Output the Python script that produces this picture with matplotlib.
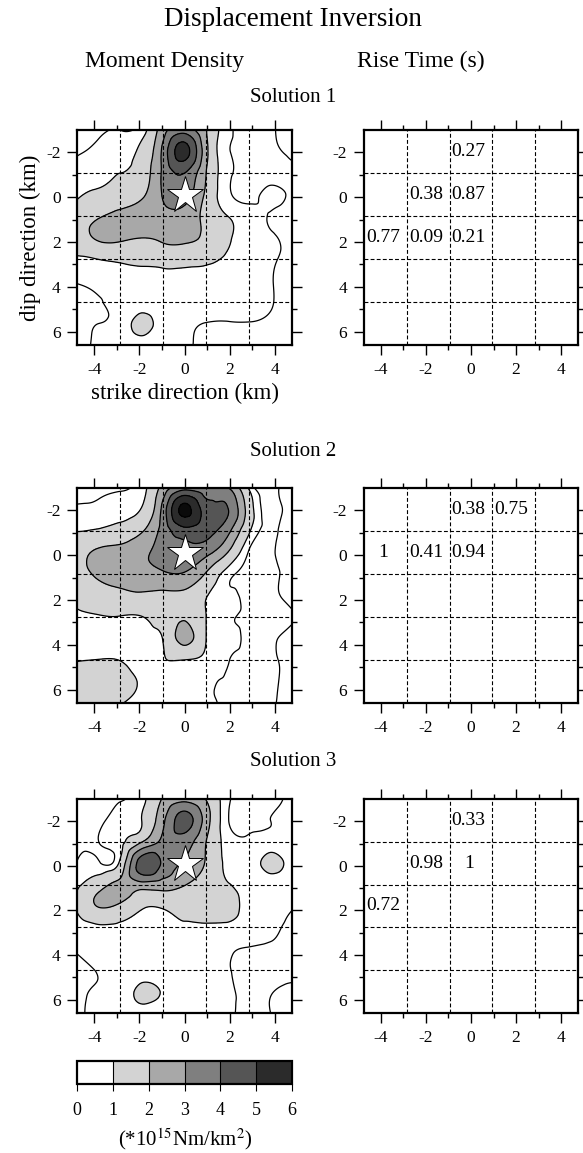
import numpy as np
import matplotlib
matplotlib.use("Agg")
import matplotlib.pyplot as plt
from matplotlib.tri import Triangulation, UniformTriRefiner
from matplotlib.colors import ListedColormap, BoundaryNorm
from matplotlib.cm import ScalarMappable

plt.rcParams['font.family'] = ['Liberation Serif', 'DejaVu Serif']
plt.rcParams['mathtext.fontset'] = 'stix'
plt.rcParams['axes.unicode_minus'] = False

# node positions of the moment density grid (km)
grid_x = [-4.75, -3.8, -2.85, -1.9, -0.95, 0.0, 0.95, 1.9, 2.85, 3.8, 4.75]
grid_y = [-3.0, -2.04, -1.08, -0.12, 0.84, 1.8, 2.76, 3.72, 4.68, 5.64, 6.6]

# moment density (*10^15 Nm/km^2), rows = dip, cols = strike
mom1 = [
    [0.30, 0.42, 0.50, 0.70, 2.60, 3.50, 2.05, 0.60, 0.35, 0.45, 0.70],
    [0.47, 0.62, 0.80, 1.20, 3.30, 5.40, 2.30, 0.55, 0.35, 0.40, 0.60],
    [0.60, 0.80, 1.00, 1.40, 3.20, 4.00, 2.00, 0.60, 0.40, 0.35, 0.40],
    [0.90, 1.15, 1.30, 1.80, 3.10, 3.40, 1.80, 0.60, 0.38, 0.58, 0.40],
    [1.40, 1.90, 2.30, 2.50, 2.70, 2.60, 1.70, 1.00, 0.70, 0.47, 0.35],
    [1.50, 2.15, 2.20, 2.02, 2.20, 2.20, 1.80, 1.10, 0.75, 0.55, 0.40],
    [0.90, 1.02, 1.15, 1.20, 1.30, 1.30, 1.20, 0.90, 0.70, 0.55, 0.40],
    [0.52, 0.60, 0.70, 0.75, 0.80, 0.80, 0.75, 0.70, 0.65, 0.52, 0.35],
    [0.40, 0.47, 0.65, 0.75, 0.70, 0.70, 0.70, 0.65, 0.60, 0.52, 0.35],
    [0.35, 0.50, 0.70, 1.15, 0.75, 0.56, 0.49, 0.48, 0.49, 0.45, 0.35],
    [0.40, 0.55, 0.65, 0.65, 0.65, 0.55, 0.40, 0.35, 0.35, 0.35, 0.35],
]
mom2 = [
    [0.30, 0.35, 0.42, 0.75, 2.40, 3.60, 3.50, 3.05, 0.90, 0.35, 0.70],
    [0.55, 0.62, 0.80, 1.05, 3.40, 6.30, 4.50, 4.05, 1.50, 0.35, 0.70],
    [0.98, 1.10, 1.30, 1.90, 3.40, 4.60, 4.30, 3.30, 1.10, 0.40, 0.70],
    [1.60, 2.20, 2.40, 2.80, 3.40, 3.70, 3.30, 2.00, 0.45, 0.40, 0.70],
    [1.50, 2.20, 2.50, 2.60, 2.85, 2.90, 1.90, 0.70, 0.40, 0.40, 0.70],
    [1.20, 1.50, 1.70, 1.85, 1.80, 1.70, 1.05, 0.62, 0.40, 0.40, 0.70],
    [0.85, 0.95, 0.97, 0.98, 1.50, 1.80, 1.00, 0.56, 0.40, 0.35, 0.45],
    [0.60, 0.65, 0.70, 0.80, 1.05, 2.30, 1.00, 0.55, 0.40, 0.42, 0.70],
    [0.95, 1.02, 0.98, 0.75, 0.96, 0.99, 0.85, 0.52, 0.40, 0.42, 0.70],
    [1.50, 1.45, 1.30, 0.90, 0.70, 0.70, 0.60, 0.47, 0.40, 0.42, 0.70],
    [1.40, 1.30, 1.05, 0.75, 0.65, 0.60, 0.56, 0.45, 0.40, 0.45, 0.70],
]
mom3 = [
    [0.30, 0.35, 0.48, 0.80, 2.10, 2.60, 1.95, 0.60, 0.35, 0.40, 0.60],
    [0.35, 0.40, 0.70, 1.00, 2.80, 4.40, 2.50, 0.55, 0.35, 0.50, 0.60],
    [0.40, 0.50, 0.85, 1.95, 3.30, 3.50, 2.00, 0.75, 0.60, 0.70, 0.60],
    [0.52, 0.55, 1.20, 4.60, 3.80, 2.90, 1.90, 0.80, 0.70, 1.15, 0.70],
    [0.85, 1.60, 2.30, 2.60, 2.50, 2.05, 1.50, 1.05, 0.75, 0.70, 0.60],
    [1.10, 2.05, 1.80, 1.10, 1.10, 1.30, 1.35, 1.30, 0.75, 0.60, 0.52],
    [0.70, 0.85, 0.85, 0.80, 0.85, 0.90, 0.90, 0.85, 0.70, 0.58, 0.40],
    [0.52, 0.60, 0.70, 0.75, 0.75, 0.70, 0.65, 0.55, 0.48, 0.45, 0.38],
    [0.40, 0.52, 0.65, 0.75, 0.70, 0.65, 0.60, 0.52, 0.40, 0.38, 0.40],
    [0.38, 0.55, 0.70, 1.12, 0.95, 0.70, 0.60, 0.55, 0.42, 0.48, 0.58],
    [0.42, 0.60, 0.65, 0.70, 0.70, 0.65, 0.60, 0.55, 0.42, 0.50, 0.65],
]

# rise time (s) per subfault: column index, row index, value
rise1_col = [2, 1, 2, 0, 1, 2]
rise1_row = [0, 1, 1, 2, 2, 2]
rise1_val = [0.27, 0.38, 0.87, 0.77, 0.09, 0.21]
rise2_col = [2, 3, 0, 1, 2]
rise2_row = [0, 0, 1, 1, 1]
rise2_val = [0.38, 0.75, 1.0, 0.41, 0.94]
rise3_col = [2, 1, 2, 0]
rise3_row = [0, 1, 1, 2]
rise3_val = [0.33, 0.98, 1.0, 0.72]

# subfault boundaries and hypocentre
fault_x_edges = [-4.75, -2.85, -0.95, 0.95, 2.85, 4.75]
fault_y_edges = [-3.0, -1.08, 0.84, 2.76, 4.68, 6.6]
hypo_x, hypo_y = 0.0, -0.1

levels = [0, 1, 2, 3, 4, 5, 6]
line_levels = [0.5, 1, 2, 3, 4, 5, 6]
grays = ['#ffffff', '#d3d3d3', '#a8a8a8', '#7f7f7f', '#555555', '#2b2b2b']
cmap = ListedColormap(grays)
cmap.set_over('#0a0a0a')
cmap.set_under('#ffffff')

W, H = 583, 1153
fig = plt.figure(figsize=(W / 100, H / 100), dpi=100)


def box(x0, y0, x1, y1):
    return [x0 / W, 1 - y1 / H, (x1 - x0) / W, (y1 - y0) / H]


def style(ax):
    ax.set_xlim(-4.75, 4.75)
    ax.set_ylim(6.6, -3.0)
    ax.set_xticks([-4, -2, 0, 2, 4])
    ax.set_xticks([-3, -1, 1, 3], minor=True)
    ax.set_yticks([-2, 0, 2, 4, 6])
    ax.set_yticks([-1, 1, 3, 5], minor=True)
    ax.tick_params(which='both', direction='out', top=True, right=True,
                   labelsize=12.5, width=1)
    ax.tick_params(which='major', length=7, pad=5)
    ax.tick_params(which='minor', length=3.5)
    for s in ax.spines.values():
        s.set_linewidth(1.6)
    for e in fault_x_edges[1:-1]:
        ax.axvline(e, color='k', lw=0.8, ls=(0, (3.5, 2)), zorder=3)
    for e in fault_y_edges[1:-1]:
        ax.axhline(e, color='k', lw=0.8, ls=(0, (3.5, 2)), zorder=3)


gx, gy = np.meshgrid(grid_x, grid_y)
tri = Triangulation(gx.ravel(), gy.ravel())
refiner = UniformTriRefiner(tri)

rows_px = [(130, 345), (488, 703), (799, 1013)]
moms = [mom1, mom2, mom3]
rises = [(rise1_col, rise1_row, rise1_val),
         (rise2_col, rise2_row, rise2_val),
         (rise3_col, rise3_row, rise3_val)]

for k in range(3):
    y0, y1 = rows_px[k]
    ax = fig.add_axes(box(77.3, y0, 292, y1))
    tri_f, z_f = refiner.refine_field(np.array(moms[k]).ravel(), subdiv=4)
    ax.tricontourf(tri_f, z_f, levels=levels, cmap=cmap, vmin=0, vmax=6,
                   extend='both')
    ax.tricontour(tri_f, z_f, levels=line_levels, colors='k', linewidths=0.9)
    ax.plot(hypo_x, hypo_y, marker='*', ms=28, mfc='white', mec='black',
            mew=0.7, zorder=5)
    style(ax)
    if k == 0:
        ax.set_xlabel('strike direction (km)', fontsize=16.5, labelpad=4)
        ax.set_ylabel('dip direction (km)', fontsize=16.5, labelpad=4)

    axr = fig.add_axes(box(364, y0, 578, y1))
    cols, rws, vals = rises[k]
    for c, r, v in zip(cols, rws, vals):
        xc = (fault_x_edges[c] + fault_x_edges[c + 1]) / 2 - 0.1
        yc = (fault_y_edges[r] + fault_y_edges[r + 1]) / 2
        axr.text(xc, yc, f'{v:g}', ha='center', va='center', fontsize=14)
    style(axr)

# titles
fig.text(293 / W, 1 - 19 / H, 'Displacement Inversion', ha='center',
         va='center', fontsize=19.5)
fig.text(165 / W, 1 - 61 / H, 'Moment Density', ha='center', va='center',
         fontsize=17)
fig.text(421 / W, 1 - 61 / H, 'Rise Time (s)', ha='center', va='center',
         fontsize=17)
for i, yy in enumerate([97, 452, 762]):
    fig.text(293 / W, 1 - yy / H, f'Solution {i + 1}', ha='center',
             va='center', fontsize=15)

# colour scale
cax = fig.add_axes(box(77.3, 1061, 292, 1084.3))
sm = ScalarMappable(norm=BoundaryNorm(levels, len(grays)),
                    cmap=ListedColormap(grays))
cb = fig.colorbar(sm, cax=cax, orientation='horizontal', drawedges=True)
cb.set_ticks(levels)
cb.outline.set_linewidth(1.6)
cb.dividers.set_linewidth(0.8)
cax.tick_params(direction='out', length=5, width=0.8, labelsize=13, pad=8)
fig.text(185 / W, 1 - 1139 / H, '(*10$^{15}$Nm/km$^2$)', ha='center',
         va='center', fontsize=15)

fig.savefig('out.png', dpi=100)
